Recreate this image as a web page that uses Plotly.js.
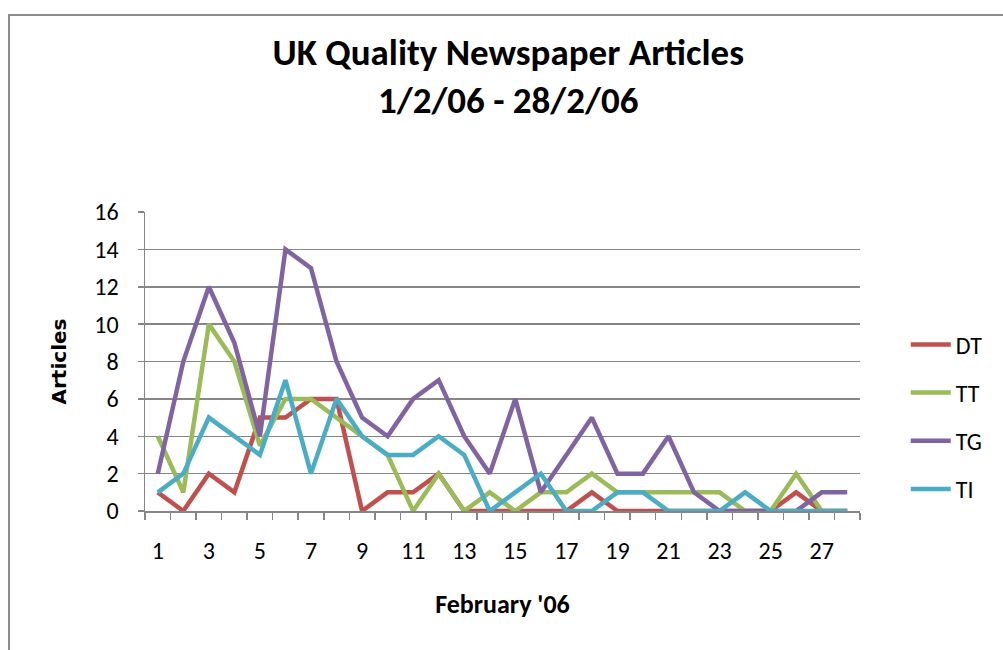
<!DOCTYPE html>
<html>
<head>
<meta charset="utf-8">
<script src="https://cdn.plot.ly/plotly-3.0.1.min.js"></script>
<style>
html,body{margin:0;padding:0;background:#fff;}
#frame{position:absolute;left:8px;top:14px;width:1100px;height:700px;border-left:2px solid #8c8c8c;border-top:2px solid #8c8c8c;}
#chart{position:absolute;left:0;top:0;width:1003px;height:650px;}
</style>
</head>
<body>
<div id="frame"></div>
<div id="chart"></div>
<script>
var days = [1,2,3,4,5,6,7,8,9,10,11,12,13,14,15,16,17,18,19,20,21,22,23,24,25,26,27,28];
var DT = [1,0,2,1,5,5,6,6,0,1,1,2,0,0,0,0,0,1,0,0,0,0,0,0,0,1,0,0];
var TT = [4,1,10,8,3.5,6,6,5,4,3,0,2,0,1,0,1,1,2,1,1,1,1,1,0,0,2,0,0];
var TG = [2,8,12,9,4,14,13,8,5,4,6,7,4,2,6,1,3,5,2,2,4,1,0,0,0,0,1,1];
var TI = [1,2,5,4,3,7,2,6,4,3,3,4,3,0,1,2,0,0,1,1,0,0,0,1,0,0,0,0];
var xTickVals = [1,3,5,7,9,11,13,15,17,19,21,23,25,27];
var seriesNames = ['DT','TT','TG','TI'];
var seriesColors = ['#C0504D','#9BBB59','#8064A2','#4BACC6'];
var seriesData = [DT, TT, TG, TI];

var font = "Carlito, Calibri, 'Open Sans', 'Liberation Sans', sans-serif";

var traces = seriesData.map(function(d, i){
  return {
    x: days, y: d, type: 'scatter', mode: 'lines', name: seriesNames[i],
    legendgroup: seriesNames[i],
    line: {color: seriesColors[i], width: 4.5}
  };
});

var layout = {
  width: 1003, height: 650,
  margin: {l: 145, r: 143, t: 212, b: 139},
  paper_bgcolor: 'rgba(0,0,0,0)', plot_bgcolor: 'rgba(0,0,0,0)',
  font: {family: font, color: '#000'},
  title: {
    text: '<b>UK Quality Newspaper Articles<br>1/2/06 - 28/2/06</b>',
    font: {family: font, size: 37, color: '#000'},
    x: 0.508, xref: 'paper', xanchor: 'center', y: 0.9, yanchor: 'middle'
  },
  xaxis: {
    range: [0.5, 28.5], tickmode: 'array', tickvals: xTickVals,
    ticktext: xTickVals.map(String),
    ticks: '', ticklabelstandoff: 18,
    showgrid: false, zeroline: false,
    showline: true, linecolor: '#868686', linewidth: 1.5,
    tickfont: {size: 24, family: font},
    minor: {tickmode: 'linear', tick0: 0.5, dtick: 1, ticks: 'outside', ticklen: 7, tickcolor: '#868686', tickwidth: 1.5, showgrid: false},
    title: {text: "<b>February '06</b>", font: {size: 26, family: font}, standoff: 30}
  },
  yaxis: {
    range: [0, 16], dtick: 2, tick0: 0,
    showgrid: true, gridcolor: '#868686', gridwidth: 1.5,
    zeroline: false, showline: true, linecolor: '#868686', linewidth: 1.5,
    ticks: 'outside', ticklen: 6, tickcolor: '#868686', tickwidth: 1.5,
    ticklabelstandoff: 14,
    tickfont: {size: 24, family: font},
    title: {text: '<b>Articles</b>', font: {size: 20, family: "'DejaVu Sans', Verdana, sans-serif"}, standoff: 22}
  },
  showlegend: true,
  legend: {
    x: 1.064, xanchor: 'left', y: 0.315, yanchor: 'middle',
    font: {size: 24, family: font}, tracegroupgap: 14,
    itemwidth: 40, bgcolor: 'rgba(0,0,0,0)'
  }
};

Plotly.newPlot('chart', traces, layout, {displayModeBar: false, staticPlot: true});
</script>
</body>
</html>
